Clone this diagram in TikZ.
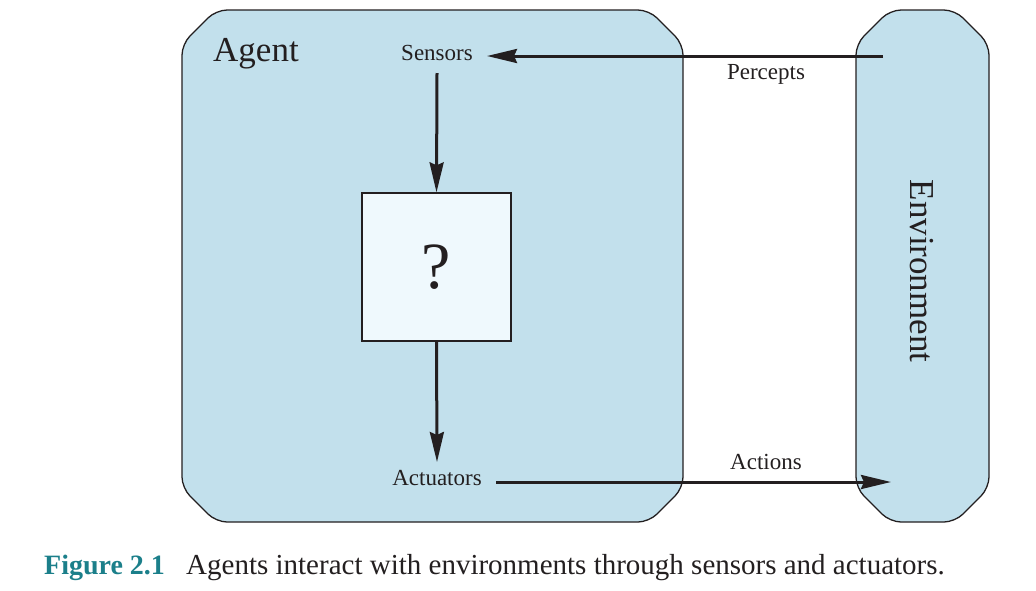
\documentclass[tikz,border=0pt]{standalone}
\usepackage{fontspec}
\setmainfont{Liberation Serif}
\usetikzlibrary{arrows.meta}
\definecolor{boxblue}{HTML}{C2E0EC}
\definecolor{innerblue}{HTML}{EFF9FD}
\definecolor{teal}{HTML}{1B7F8A}
\definecolor{ink}{HTML}{231F20}
\tikzset{
  panel/.style={draw=ink, line width=1.3pt, fill=boxblue, rounded corners=11pt},
  flow/.style={draw=ink, line width=3pt, -{Stealth[length=30pt,width=14pt,inset=3pt]}},
  lbl/.style={inner sep=0pt, text=ink, font=\fontsize{23}{26}\selectfont},
  big/.style={inner sep=0pt, text=ink, font=\fontsize{35}{40}\selectfont},
}
\begin{document}
\begin{tikzpicture}[x=1pt,y=-1pt]
\useasboundingbox (0,0) rectangle (1036,590);
% Agent panel
\path[panel] (182,44) -- (216,10) -- (649,10) -- (683,44) -- (683,488) -- (649,522) -- (216,522) -- (182,488) -- cycle;
% Environment panel
\path[panel] (856,44) -- (890,10) -- (955,10) -- (989,44) -- (989,488) -- (955,522) -- (890,522) -- (856,488) -- cycle;
\node[big, anchor=base west] (agent) at (213,61) {Agent};
\node[big, rotate=-90] (env) at (922,271) {Environment};
\node[draw=ink, line width=1.3pt, fill=innerblue, minimum width=149pt, minimum height=148pt, inner sep=0pt, font=\fontsize{66}{70}\selectfont, text=ink] (q) at (436.5,267) {?};
\node[lbl] (sensors) at (437,53) {Sensors};
\node[lbl] (actuators) at (437,478) {Actuators};
\node[lbl] (percepts) at (766,74) {Percepts};
\node[lbl] (actions) at (766,462) {Actions};
\coordinate (pin) at (883,56);
\coordinate (pout) at (891,482);
\coordinate (ptip) at (487,56);
\coordinate (atip) at (437,462);
\coordinate (astart) at (496,482);
\coordinate (sstart) at (437,73);
\draw[flow] (pin) -- (ptip);
\draw[flow] (sstart) -- (q.north);
\draw[flow] (q.south) -- (atip);
\draw[flow] (astart) -- (pout);
\node[anchor=base west, inner sep=0pt, text=teal, font=\fontsize{28}{30}\selectfont\bfseries] (fig) at (44,574) {Figure 2.1};
\node[anchor=base west, inner sep=0pt, text=ink, font=\fontsize{29}{30}\selectfont] (cap) at (186,574) {Agents interact with environments through sensors and actuators.};
\end{tikzpicture}
\end{document}
